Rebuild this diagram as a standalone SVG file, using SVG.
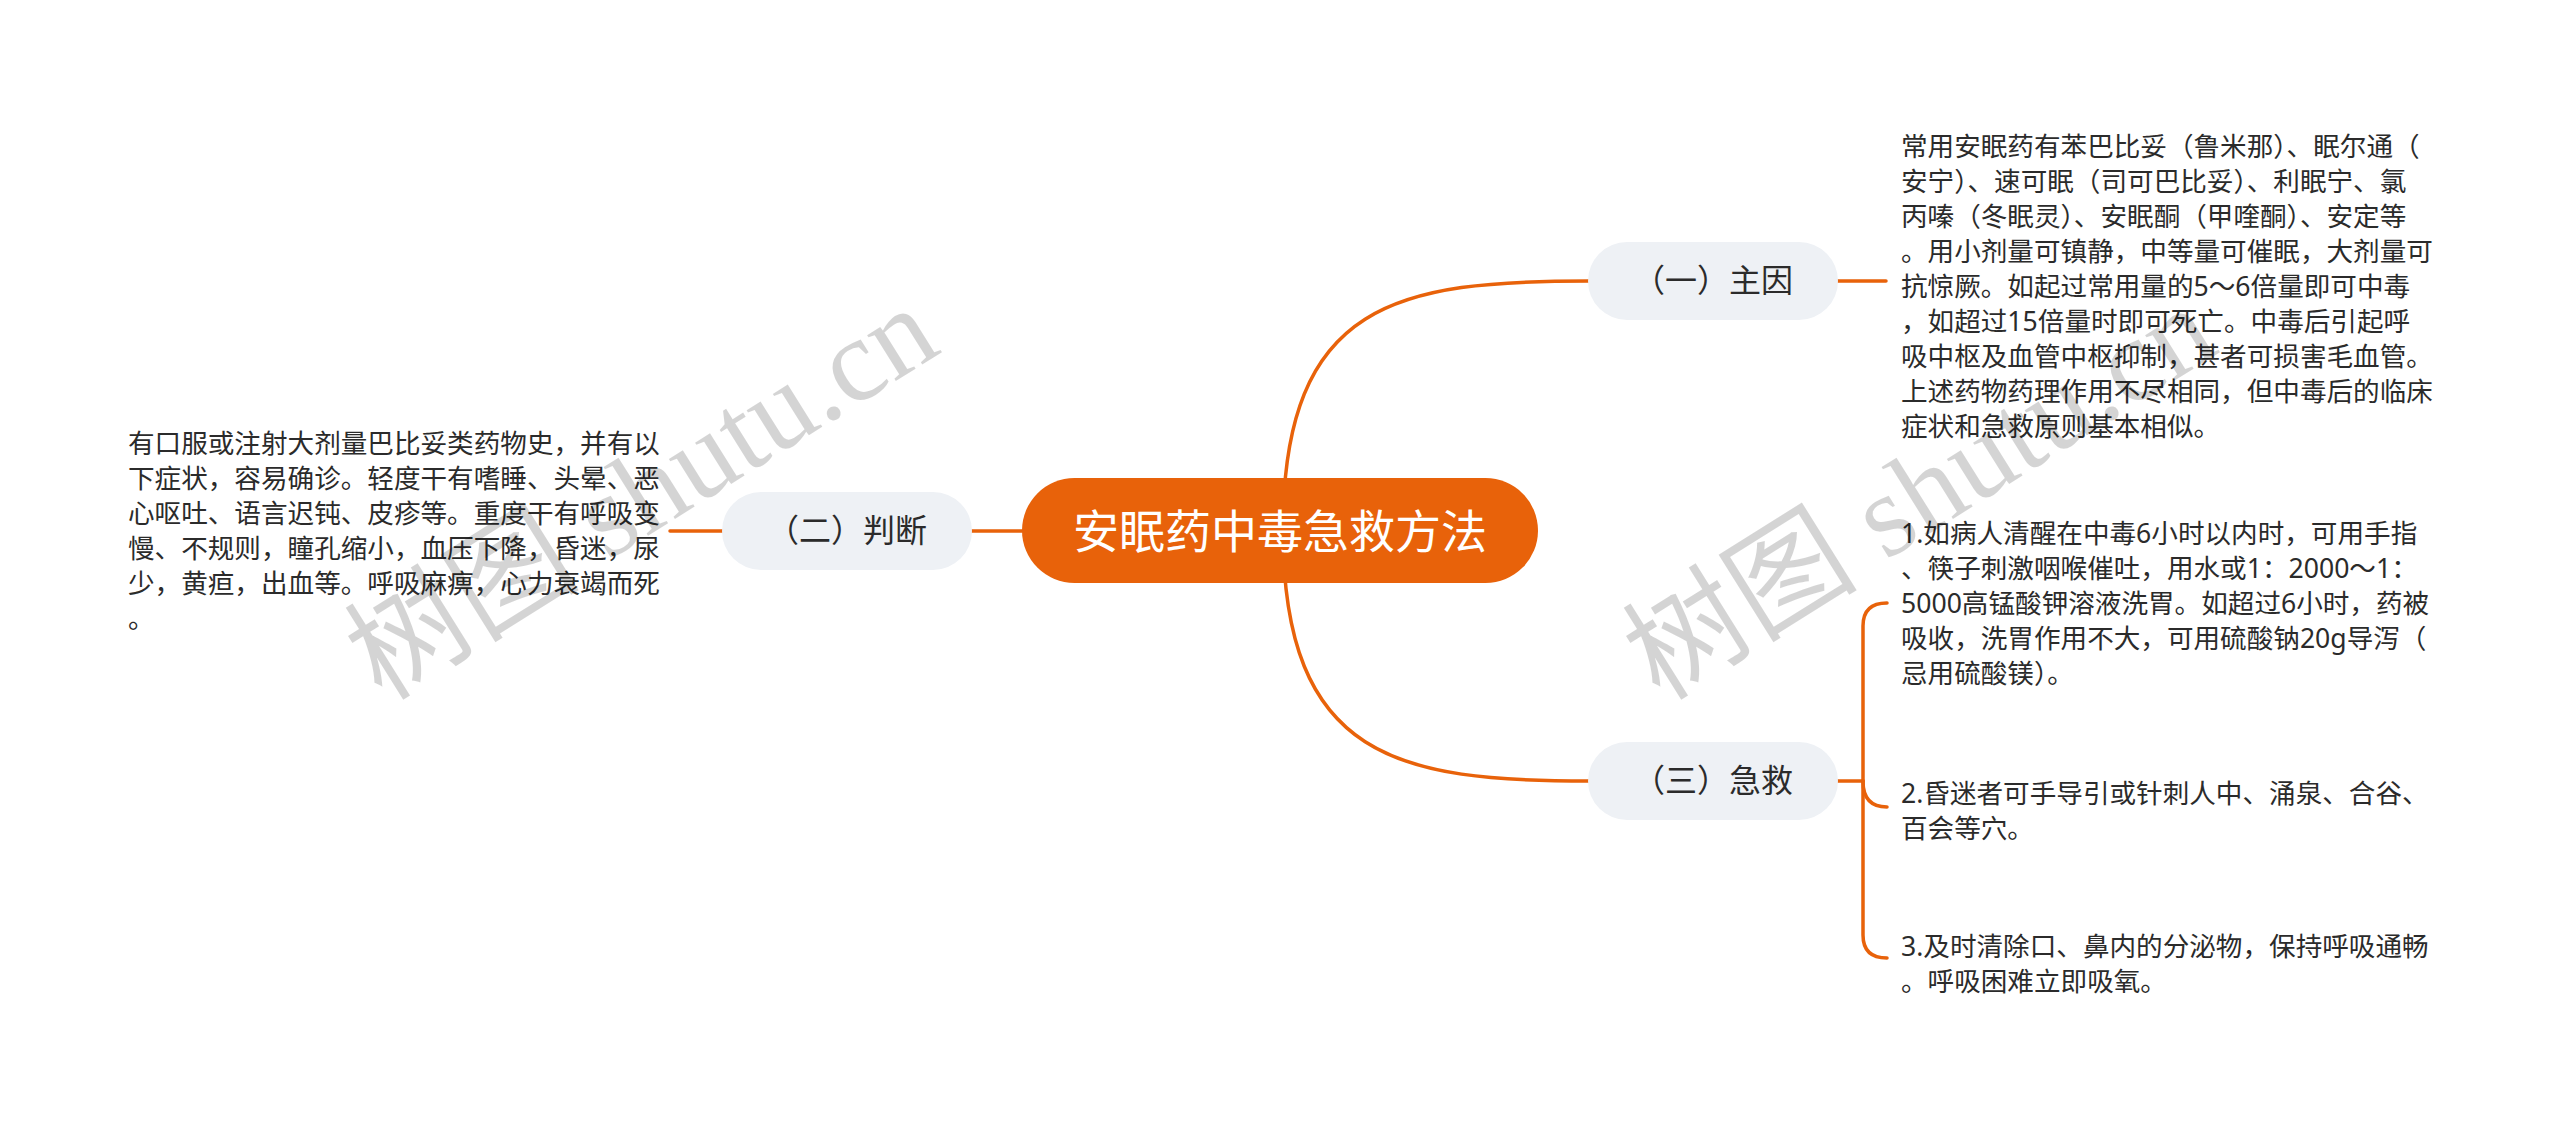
<svg xmlns="http://www.w3.org/2000/svg" width="2560" height="1121" viewBox="0 0 2560 1121">
<style>
.conn{fill:none;stroke:#E8620A;stroke-width:3.5;stroke-linecap:round}
.sub{fill:#EEF1F5}
.subt{font-family:"Noto Sans","Noto Sans CJK SC",sans-serif;font-size:32px;fill:#2b2b2b;text-anchor:middle}
.txt{font-family:"Noto Sans","Noto Sans CJK SC",sans-serif;font-size:26.6px;fill:#2b2b2b}
.wm{font-family:"Liberation Serif","Noto Sans CJK SC",serif;font-size:118px;fill:#000;fill-opacity:0.17}
</style>
<rect width="2560" height="1121" fill="#ffffff"/>
<g id="connectors">
<path class="conn" d="M1283,530 C1283,300 1400,281 1589,281"/>
<path class="conn" d="M1283,530 C1283,760 1400,781 1589,781"/>
<path class="conn" d="M1022,531 L972,531"/>
<path class="conn" d="M722,531 L670,531"/>
<path class="conn" d="M1838,281 L1886,281"/>
<path class="conn" d="M1838,781 L1863,781"/>
<path class="conn" d="M1863,781 L1863,626 Q1863,603 1887,603"/>
<path class="conn" d="M1863,781 L1863,935 Q1863,958 1887,958"/>
<path class="conn" d="M1863,781 Q1863,807 1887,807"/>
</g>
<g id="root">
<rect x="1022" y="478" width="516" height="105" rx="52.5" fill="#E8620A"/>
<text x="1280" y="548" style="font-family:'Noto Sans','Noto Sans CJK SC',sans-serif;font-size:46px;fill:#ffffff;text-anchor:middle">安眠药中毒急救方法</text>
</g>
<g id="node-zhuyin">
<rect class="sub" x="1588" y="242" width="250" height="78" rx="39"/>
<text class="subt" x="1713" y="292">（一）主因</text>
</g>
<g id="node-panduan">
<rect class="sub" x="722" y="492" width="250" height="78" rx="39"/>
<text class="subt" x="847" y="542">（二）判断</text>
</g>
<g id="node-jijiu">
<rect class="sub" x="1588" y="742" width="250" height="78" rx="39"/>
<text class="subt" x="1713" y="792">（三）急救</text>
</g>
<g id="text-zhuyin">
<text class="txt" x="1901" y="156">常用安眠药有苯巴比妥（鲁米那）、眠尔通（</text>
<text class="txt" x="1901" y="191">安宁）、速可眠（司可巴比妥）、利眠宁、氯</text>
<text class="txt" x="1901" y="226">丙嗪（冬眠灵）、安眠酮（甲喹酮）、安定等</text>
<text class="txt" x="1901" y="261">。用小剂量可镇静，中等量可催眠，大剂量可</text>
<text class="txt" x="1901" y="296">抗惊厥。如起过常用量的5～6倍量即可中毒</text>
<text class="txt" x="1901" y="331">，如超过15倍量时即可死亡。中毒后引起呼</text>
<text class="txt" x="1901" y="366">吸中枢及血管中枢抑制，甚者可损害毛血管。</text>
<text class="txt" x="1901" y="401">上述药物药理作用不尽相同，但中毒后的临床</text>
<text class="txt" x="1901" y="436">症状和急救原则基本相似。</text>
</g>
<g id="text-panduan">
<text class="txt" x="128" y="453">有口服或注射大剂量巴比妥类药物史，并有以</text>
<text class="txt" x="128" y="488">下症状，容易确诊。轻度干有嗜睡、头晕、恶</text>
<text class="txt" x="128" y="523">心呕吐、语言迟钝、皮疹等。重度干有呼吸变</text>
<text class="txt" x="128" y="558">慢、不规则，瞳孔缩小，血压下降，昏迷，尿</text>
<text class="txt" x="128" y="593">少，黄疸，出血等。呼吸麻痹，心力衰竭而死</text>
<text class="txt" x="128" y="628">。</text>
</g>
<g id="text-jijiu-1">
<text class="txt" x="1901" y="543">1.如病人清醒在中毒6小时以内时，可用手指</text>
<text class="txt" x="1901" y="578">、筷子刺激咽喉催吐，用水或1：2000～1：</text>
<text class="txt" x="1901" y="613">5000高锰酸钾溶液洗胃。如超过6小时，药被</text>
<text class="txt" x="1901" y="648">吸收，洗胃作用不大，可用硫酸钠20g导泻（</text>
<text class="txt" x="1901" y="683">忌用硫酸镁）。</text>
</g>
<g id="text-jijiu-2">
<text class="txt" x="1901" y="803">2.昏迷者可手导引或针刺人中、涌泉、合谷、</text>
<text class="txt" x="1901" y="838">百会等穴。</text>
</g>
<g id="text-jijiu-3">
<text class="txt" x="1901" y="956">3.及时清除口、鼻内的分泌物，保持呼吸通畅</text>
<text class="txt" x="1901" y="991">。呼吸困难立即吸氧。</text>
</g>
<g id="watermarks">
<text class="wm" transform="translate(382,702) rotate(-32)">树图 shutu.cn</text>
<text class="wm" transform="translate(1660,702) rotate(-32)">树图 shutu.cn</text>
</g>
</svg>
